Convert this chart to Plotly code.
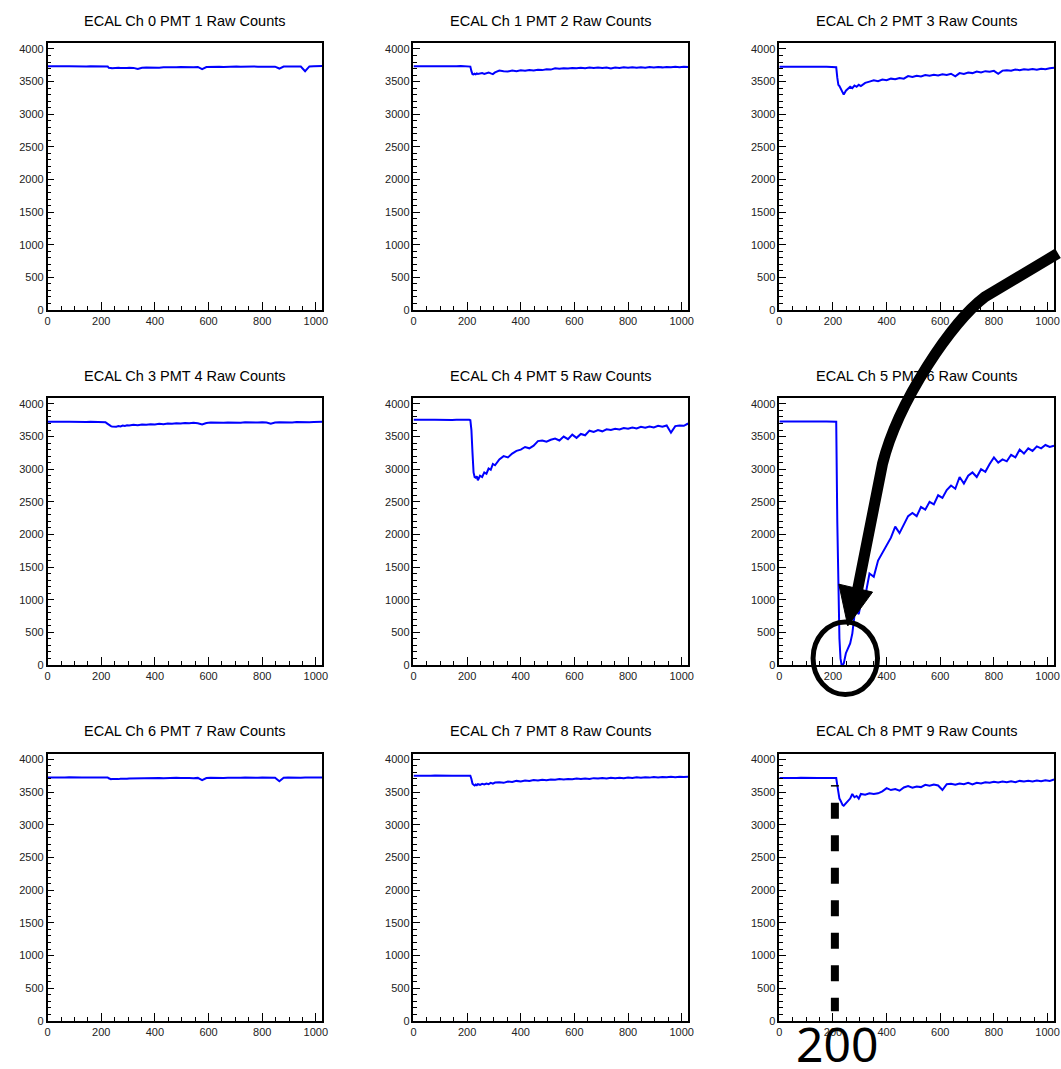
import plotly.graph_objects as go

# ---------------- data ----------------
SAMPLES = [0, 16, 32, 48, 64, 80, 96, 112, 128, 144, 160, 176, 192, 208,
           212, 216, 220, 224, 228, 232, 236, 240,
           248, 256, 264, 272, 280, 288, 296, 304,
           320, 336, 352, 368, 384, 400, 416, 432, 448, 464,
           480, 496, 512, 528, 544, 560, 576, 592, 608, 624,
           640, 656, 672, 688, 704, 720, 736, 752, 768, 784,
           800, 816, 832, 848, 864, 880, 896, 912, 928, 944,
           960, 976, 992, 1008, 1024]

CH0 = [3735, 3733, 3736, 3734, 3735, 3737, 3734, 3736, 3735, 3733, 3736, 3735, 3734, 3736,
       3735, 3734, 3736, 3733, 3712, 3705, 3708, 3704,
       3710, 3706, 3712, 3708, 3705, 3711, 3707, 3712,
       3710, 3692, 3712, 3715, 3711, 3718, 3714, 3720, 3717, 3722,
       3719, 3724, 3720, 3723, 3721, 3725, 3690, 3722, 3726, 3723,
       3727, 3724, 3729, 3726, 3730, 3727, 3731, 3728, 3732, 3729,
       3731, 3728, 3732, 3729, 3700, 3730, 3733, 3729, 3734, 3731,
       3660, 3733, 3736, 3734, 3738]

CH1 = [3737, 3736, 3738, 3735, 3737, 3739, 3736, 3737, 3738, 3736, 3737, 3739, 3736, 3737,
       3730, 3660, 3615, 3610, 3620, 3612, 3625, 3618,
       3622, 3630, 3618, 3628, 3640, 3625, 3615, 3640,
       3670, 3660, 3655, 3668, 3660, 3672, 3665, 3678, 3670, 3682,
       3676, 3690, 3684, 3705, 3698, 3706, 3700, 3710, 3703, 3712,
       3705, 3714, 3707, 3716, 3709, 3716, 3700, 3715, 3709, 3718,
       3712, 3719, 3713, 3720, 3714, 3722, 3716, 3724, 3718, 3725,
       3719, 3726, 3720, 3727, 3724]

CH2 = [3727, 3726, 3728, 3725, 3727, 3729, 3726, 3727, 3728, 3726, 3727, 3729, 3726, 3727,
       3720, 3560, 3450, 3430, 3400, 3370, 3330, 3300,
       3360, 3390, 3420, 3400, 3440, 3420, 3450, 3430,
       3480, 3500, 3520, 3505, 3530, 3520, 3545, 3535, 3555, 3545,
       3585, 3570, 3590, 3580, 3600, 3590, 3605, 3595, 3612, 3600,
       3620, 3580, 3630, 3618, 3640, 3630, 3655, 3640, 3660, 3650,
       3665, 3620, 3668, 3675, 3665, 3685, 3675, 3690, 3680, 3692,
       3682, 3698, 3688, 3703, 3712]

CH3 = [3725, 3723, 3726, 3724, 3725, 3727, 3724, 3726, 3725, 3723, 3726, 3725, 3724, 3726,
       3724, 3720, 3705, 3690, 3678, 3668, 3660, 3655,
       3650, 3652, 3660, 3655, 3668, 3662, 3672, 3668,
       3680, 3675, 3685, 3680, 3690, 3686, 3695, 3690, 3700, 3696,
       3705, 3700, 3708, 3703, 3710, 3705, 3685, 3708, 3714, 3709,
       3715, 3710, 3716, 3712, 3717, 3712, 3718, 3713, 3719, 3714,
       3720, 3715, 3698, 3716, 3721, 3716, 3722, 3717, 3722, 3718,
       3723, 3719, 3724, 3720, 3725]

CH4 = [3756, 3754, 3757, 3755, 3756, 3758, 3755, 3756, 3757, 3755, 3756, 3758, 3755, 3756,
       3750, 3600, 3250, 2950, 2880, 2870, 2890, 2830,
       2900, 2880, 2950, 2930, 3010, 2990, 3080, 3060,
       3150, 3200, 3180, 3240, 3280, 3300, 3340, 3320, 3360, 3430,
       3440, 3420, 3450, 3470, 3440, 3500, 3460, 3530, 3480, 3540,
       3520, 3590, 3570, 3600, 3580, 3610, 3600, 3620, 3610, 3630,
       3620, 3640, 3625, 3650, 3635, 3655, 3640, 3665, 3650, 3670,
       3560, 3660, 3670, 3665, 3700]

CH5 = [3730, 3729, 3731, 3728, 3730, 3732, 3729, 3730, 3731, 3729, 3730, 3732, 3729, 3730,
       3728, 2200, 1200, 400, 100, 0, 0, 20,
       180, 260, 330, 480, 760, 820, 780, 950,
       1050, 1400, 1350, 1600, 1720, 1850, 1950, 2120, 2020, 2150,
       2280, 2330, 2280, 2420, 2380, 2500, 2460, 2600, 2560, 2680,
       2750, 2700, 2880, 2780, 2900, 2950, 2880, 3000, 2960, 3080,
       3180, 3100, 3150, 3120, 3220, 3180, 3300, 3240, 3320, 3280,
       3350, 3320, 3370, 3340, 3360]

CH6 = [3722, 3720, 3723, 3721, 3722, 3724, 3720, 3722, 3723, 3721, 3722, 3724, 3721, 3722,
       3721, 3723, 3720, 3722, 3710, 3700, 3695, 3698,
       3696, 3700, 3697, 3702, 3699, 3705, 3702, 3708,
       3710, 3706, 3712, 3709, 3714, 3711, 3715, 3712, 3716, 3713,
       3717, 3714, 3718, 3715, 3712, 3716, 3682, 3714, 3717, 3714,
       3718, 3715, 3719, 3716, 3720, 3717, 3721, 3718, 3720, 3717,
       3721, 3718, 3720, 3717, 3665, 3718, 3721, 3718, 3722, 3719,
       3722, 3719, 3723, 3720, 3722]

CH7 = [3750, 3748, 3751, 3749, 3750, 3752, 3749, 3750, 3751, 3749, 3750, 3752, 3749, 3750,
       3748, 3700, 3625, 3610, 3600, 3615, 3605, 3620,
       3610, 3625, 3615, 3630, 3620, 3640, 3628, 3645,
       3650, 3640, 3660, 3652, 3670, 3660, 3675, 3668, 3682, 3675,
       3688, 3680, 3692, 3686, 3698, 3690, 3700, 3694, 3705, 3698,
       3708, 3700, 3712, 3705, 3714, 3708, 3716, 3710, 3718, 3712,
       3722, 3715, 3724, 3718, 3726, 3720, 3728, 3722, 3730, 3724,
       3732, 3726, 3734, 3728, 3735]

CH8 = [3716, 3714, 3717, 3715, 3716, 3718, 3715, 3716, 3717, 3715, 3716, 3718, 3715, 3716,
       3714, 3600, 3450, 3400, 3370, 3330, 3300, 3290,
       3330, 3360, 3400, 3470, 3420, 3440, 3400, 3470,
       3460, 3480, 3470, 3480, 3510, 3560, 3530, 3545, 3520, 3570,
       3590, 3565, 3585, 3575, 3610, 3595, 3615, 3600, 3530, 3620,
       3625, 3610, 3630, 3620, 3640, 3615, 3640, 3630, 3650, 3640,
       3655, 3645, 3660, 3650, 3665, 3650, 3670, 3660, 3672, 3662,
       3675, 3665, 3680, 3670, 3690]

CHANNELS = [CH0, CH1, CH2, CH3, CH4, CH5, CH6, CH7, CH8]
TITLES = ["ECAL Ch 0 PMT 1 Raw Counts", "ECAL Ch 1 PMT 2 Raw Counts",
          "ECAL Ch 2 PMT 3 Raw Counts", "ECAL Ch 3 PMT 4 Raw Counts",
          "ECAL Ch 4 PMT 5 Raw Counts", "ECAL Ch 5 PMT 6 Raw Counts",
          "ECAL Ch 6 PMT 7 Raw Counts", "ECAL Ch 7 PMT 8 Raw Counts",
          "ECAL Ch 8 PMT 9 Raw Counts"]
MARK_LABEL = "200"

# ---------------- layout geometry ----------------
W, H = 1061, 1069
COL_X = [(45, 322), (414, 691), (783, 1060)]
ROW_Y = [(42.7, 311), (400, 668.3), (757.7, 1026.7)]
FONT = "Liberation Sans, Arial, Helvetica, sans-serif"


def px(x):
    return x / W


def py(y):
    return 1 - y / H


fig = go.Figure()
annotations = []
layout_axes = {}

for i, (title, vals) in enumerate(zip(TITLES, CHANNELS)):
    r, c = divmod(i, 3)
    sfx = "" if i == 0 else str(i + 1)
    fig.add_trace(go.Scatter(
        x=SAMPLES, y=vals, mode="lines",
        line=dict(color="#0000ff", width=2),
        xaxis="x" + sfx, yaxis="y" + sfx,
        showlegend=False, hoverinfo="skip"))
    x0, x1 = COL_X[c]
    y0, y1 = ROW_Y[r]
    common = dict(showline=True, mirror=True, linecolor="black", linewidth=1.5,
                  showgrid=False, zeroline=False, ticks="inside",
                  tickcolor="black", tickwidth=1.3,
                  tickfont=dict(family=FONT, size=11, color="#222"))
    layout_axes["xaxis" + sfx] = dict(
        domain=[px(x0), px(x1)], anchor="y" + sfx, range=[0, 1024],
        tick0=0, dtick=200, ticklen=8,
        minor=dict(ticks="inside", dtick=50, ticklen=4, tickcolor="black", tickwidth=1),
        **common)
    layout_axes["yaxis" + sfx] = dict(
        domain=[py(y1), py(y0)], anchor="x" + sfx, range=[0, 4085],
        tick0=0, dtick=500, ticklen=7,
        minor=dict(ticks="inside", dtick=100, ticklen=4, tickcolor="black", tickwidth=1),
        **common)
    annotations.append(dict(
        text=title, x=px((x0 + x1) / 2), y=py(y0 - 22.5),
        xref="paper", yref="paper", xanchor="center", yanchor="middle",
        showarrow=False, font=dict(family=FONT, size=14.5, color="black")))

# big hand-drawn-style label
annotations.append(dict(
    text=MARK_LABEL, x=px(841), y=py(1049), xref="paper", yref="paper",
    xanchor="center", yanchor="middle", showarrow=False,
    font=dict(family="Noto Sans, DejaVu Sans, sans-serif", size=48, color="black")))

# ---------------- overlay shapes ----------------
arrow_path = (f"M {px(1064)} {py(254)} L {px(990)} {py(298)} "
              f"C {px(958)} {py(322)}, {px(903)} {py(402)}, {px(887)} {py(466)} "
              f"L {px(862)} {py(592)}")
head_path = (f"M {px(843)} {py(587)} L {px(877)} {py(595)} L {px(852)} {py(629)} Z")

shapes = [
    dict(type="path", path=arrow_path, xref="paper", yref="paper",
         line=dict(color="black", width=11)),
    dict(type="path", path=head_path, xref="paper", yref="paper",
         fillcolor="black", line=dict(color="black", width=1)),
    dict(type="circle", xref="paper", yref="paper",
         x0=px(817), x1=px(882), y0=py(698), y1=py(625),
         line=dict(color="black", width=5)),
    dict(type="line", xref="paper", yref="paper",
         x0=px(839), x1=px(839), y0=py(807), y1=py(1017),
         line=dict(color="black", width=8, dash="16px,16.5px")),
    dict(type="line", xref="paper", yref="paper",
         x0=px(835), x1=px(843), y0=py(790), y1=py(790),
         line=dict(color="black", width=1.5)),
]

fig.update_layout(
    width=W, height=H, margin=dict(l=0, r=0, t=0, b=0),
    paper_bgcolor="white", plot_bgcolor="white",
    annotations=annotations, shapes=shapes,
    **layout_axes)

fig.write_html("out.html")
